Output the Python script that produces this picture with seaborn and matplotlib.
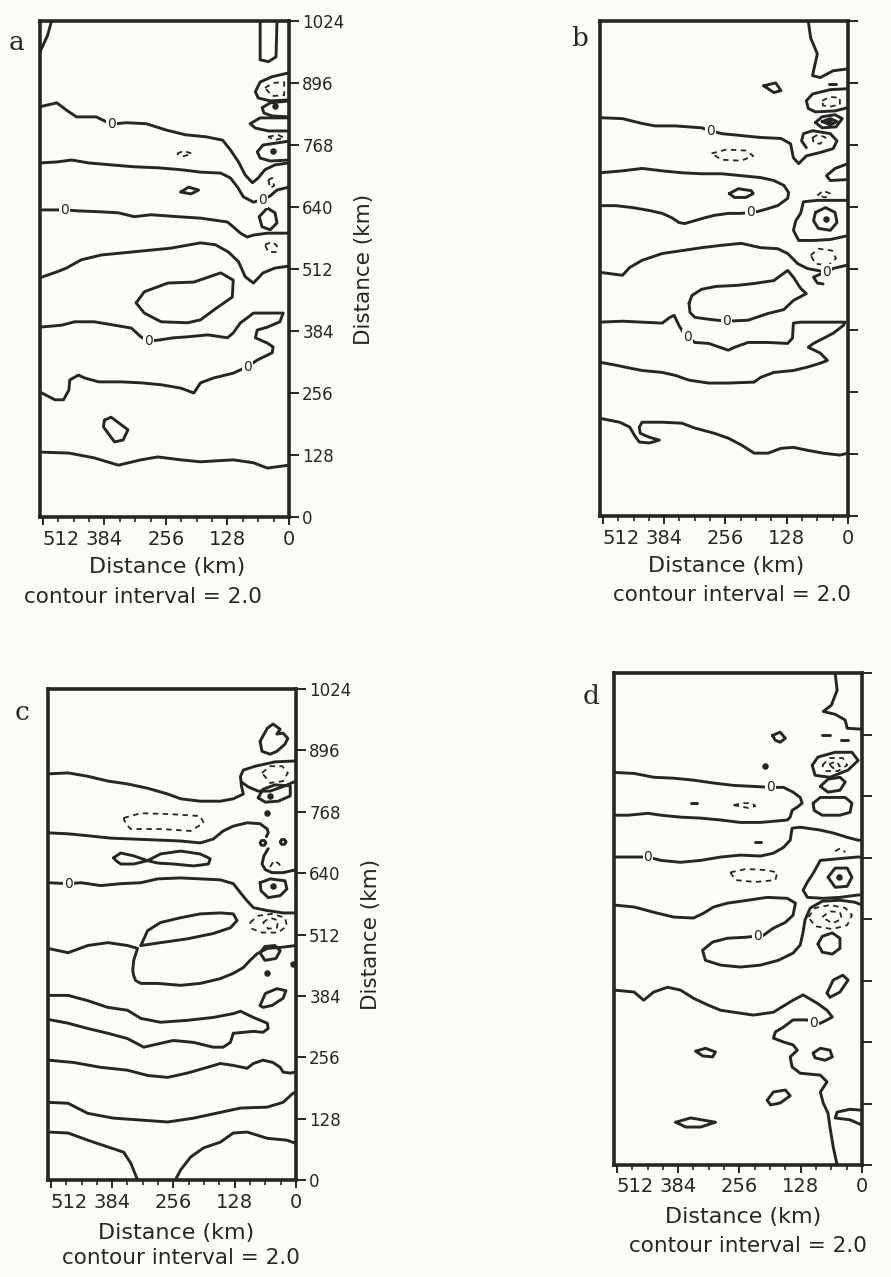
import pandas as pd
import matplotlib
matplotlib.use("Agg")
from matplotlib import pyplot as plt
import seaborn as sns

# Traced contour lines: (distance from right edge in km, distance from bottom in km)
# solid = zero / positive contours, dashed = negative contours

# ---------------- panel a ----------------
a_wedge = [(494, 1024), (502, 995), (518, 960)]
a_rect = [(60, 1024), (60, 944), (43, 940), (27, 950), (25, 1024)]
a_line1 = [(518, 847), (483, 855), (463, 840), (442, 826), (401, 826), (380, 816), (359, 812), (339, 814),
           (297, 812), (256, 799), (215, 789), (173, 785), (138, 778), (122, 758), (105, 733), (91, 706),
           (76, 690), (64, 700), (50, 717), (29, 727), (0, 731)]
a_line2 = [(518, 731), (483, 733), (452, 737), (417, 731), (370, 727), (322, 723), (273, 721), (225, 717),
           (184, 712), (142, 710), (122, 700), (107, 681), (95, 661), (74, 650), (56, 655), (39, 663),
           (25, 675), (0, 681)]
a_line3 = [(518, 634), (467, 634), (438, 632), (390, 630), (355, 628), (322, 620), (287, 624), (231, 620),
           (184, 617), (128, 609), (116, 599), (101, 586), (87, 578), (74, 582), (45, 586), (0, 586)]
a_line4 = [(518, 494), (483, 506), (463, 514), (432, 531), (390, 541), (328, 547), (246, 555), (184, 566),
           (153, 562), (126, 547), (105, 527), (91, 496), (74, 483), (54, 504), (29, 514), (0, 518)]
a_line5 = [(518, 392), (473, 396), (446, 403), (405, 403), (363, 396), (328, 390), (308, 372), (293, 363),
           (273, 365), (240, 370), (211, 372), (169, 376), (128, 370), (116, 380), (101, 401), (87, 411),
           (74, 421), (39, 421), (12, 421), (19, 403), (45, 392), (66, 386), (70, 370), (45, 359), (33, 351),
           (35, 339), (66, 324), (87, 310), (116, 297), (157, 287), (184, 277), (198, 256), (225, 266),
           (266, 273), (308, 277), (349, 279), (396, 279), (425, 287), (438, 293), (456, 283), (458, 262),
           (469, 242), (487, 242), (518, 258)]
a_line6 = [(518, 134), (458, 132), (405, 122), (355, 107), (308, 118), (273, 124), (225, 118), (184, 114),
           (116, 118), (74, 112), (45, 101), (0, 107)]
a_oval_big = [(318, 442), (301, 465), (252, 483), (198, 485), (142, 504), (116, 489), (118, 454), (157, 427),
              (184, 407), (211, 401), (266, 403), (301, 421), (318, 442)]
a_oval_small = [(384, 200), (370, 206), (335, 180), (345, 159), (363, 155), (386, 186), (384, 200)]
a_lens = [(225, 671), (209, 681), (188, 675), (204, 667), (225, 671)]
a_cell1 = [(0, 917), (35, 909), (60, 898), (70, 878), (64, 865), (39, 859), (0, 861)]
a_cell2 = [(0, 859), (39, 855), (56, 845), (52, 834), (35, 828), (0, 826)]
a_cell3 = [(0, 824), (60, 824), (81, 812), (70, 803), (43, 797), (0, 797)]
a_cell5 = [(0, 776), (54, 768), (66, 754), (60, 741), (39, 735), (0, 737)]
a_cell6 = [(45, 638), (29, 628), (25, 607), (39, 593), (56, 599), (62, 620), (45, 638)]
a_neg1 = [(233, 750), (219, 756), (202, 750), (219, 745), (233, 750)]
a_neg2 = [(50, 886), (33, 896), (10, 898), (10, 871), (35, 869), (50, 886)]
a_neg3 = [(43, 785), (23, 789), (10, 783), (31, 778), (43, 785)]
a_neg4 = [(43, 696), (35, 700), (31, 684), (39, 679), (43, 696)]
a_neg5 = [(50, 562), (35, 568), (25, 560), (27, 547), (43, 547), (50, 562)]
a_dots = [(29, 849), (33, 756)]
a_zeros = [(370, 812), (56, 655), (467, 634), (293, 363), (87, 310)]

# ---------------- panel b ----------------
b_top = [(83, 1024), (78, 989), (64, 956), (72, 921), (74, 911), (58, 907), (31, 921), (0, 925)]
b_tri = [(176, 890), (151, 896), (140, 880), (155, 876), (176, 890)]
b_mark = [(39, 894), (25, 894)]
b_cell1 = [(0, 884), (37, 882), (74, 873), (87, 859), (83, 843), (68, 836), (27, 838), (0, 845)]
b_cell2 = [(68, 814), (54, 826), (27, 830), (12, 822), (25, 805), (54, 803), (68, 814)]
b_cell2_in = [(54, 816), (37, 822), (23, 816), (37, 809), (54, 816)]
b_line1 = [(518, 824), (471, 822), (430, 812), (403, 807), (361, 807), (306, 803), (287, 797), (264, 791),
           (223, 787), (182, 783), (140, 781), (120, 770), (114, 741), (103, 729), (87, 745), (58, 752),
           (31, 760), (23, 776), (37, 791), (74, 797), (93, 791), (97, 776), (87, 762)]
b_line2 = [(518, 710), (471, 714), (430, 719), (388, 714), (347, 710), (306, 708), (264, 708), (223, 704),
           (182, 700), (155, 694), (134, 684), (124, 669), (126, 657), (147, 642), (167, 636), (188, 630),
           (204, 628), (223, 626), (250, 626), (279, 622), (299, 617), (320, 611), (341, 605), (353, 607),
           (368, 617), (388, 626), (415, 632), (450, 638), (485, 642), (518, 642)]
b_lens = [(248, 667), (229, 677), (202, 673), (198, 667), (213, 659), (237, 659), (248, 667)]
b_edge = [(0, 729), (27, 719), (45, 704), (37, 694), (0, 696)]
b_cell3 = [(0, 653), (64, 653), (93, 650), (99, 626), (109, 611), (114, 591), (103, 570), (72, 570),
           (37, 572), (0, 580)]
b_ring = [(68, 628), (47, 638), (27, 628), (23, 607), (37, 591), (62, 595), (72, 611), (68, 628)]
b_line3 = [(518, 504), (471, 498), (456, 514), (430, 529), (388, 543), (347, 549), (306, 555), (264, 560),
           (223, 564), (182, 555), (147, 553), (126, 543), (105, 522), (85, 512), (64, 508), (45, 504),
           (31, 512), (6, 518), (0, 518)]
b_hookc = [(54, 502), (72, 494), (64, 482), (52, 480)]
b_loop = [(332, 440), (326, 456), (306, 469), (275, 475), (233, 477), (196, 481), (155, 487), (126, 508),
          (114, 494), (99, 471), (87, 460), (114, 446), (134, 427), (167, 419), (209, 405), (254, 403),
          (291, 407), (320, 411), (330, 421), (332, 440)]
b_line4 = [(518, 401), (471, 403), (430, 401), (388, 399), (372, 411), (363, 415), (353, 394), (343, 378),
           (320, 359), (291, 357), (250, 343), (237, 349), (209, 359), (167, 359), (126, 357), (116, 368),
           (114, 399), (99, 401), (64, 401), (31, 401), (6, 401), (10, 394), (31, 378), (72, 357), (83, 349),
           (58, 337), (43, 322), (58, 316), (85, 308), (114, 301), (155, 297), (182, 287), (196, 277),
           (250, 275), (291, 275), (332, 281), (361, 291), (388, 297), (430, 301), (456, 306), (485, 312),
           (518, 318)]
b_line5 = [(518, 202), (477, 194), (456, 184), (446, 167), (436, 153), (415, 151), (394, 157), (415, 163),
           (434, 171), (436, 184), (430, 194), (388, 194), (347, 192), (320, 182), (279, 171), (250, 161),
           (223, 147), (196, 130), (167, 130), (140, 140), (114, 142), (85, 136), (52, 130), (17, 126), (0, 130)]
b_neg1 = [(54, 859), (37, 867), (17, 865), (17, 851), (37, 847), (52, 849), (54, 859)]
b_neg2 = [(74, 783), (62, 789), (47, 783), (58, 770), (72, 772), (74, 783)]
b_neg3 = [(285, 750), (254, 758), (213, 756), (198, 745), (223, 735), (264, 737), (285, 750)]
b_neg4 = [(64, 663), (52, 673), (37, 667), (47, 659), (64, 663)]
b_neg5 = [(78, 539), (62, 553), (33, 549), (25, 533), (41, 518), (68, 522), (78, 539)]
b_dots = [(39, 816), (45, 615)]
b_zeros = [(287, 797), (204, 628), (45, 504), (254, 403), (335, 370)]

# ---------------- panel c ----------------
c_shoe = [(75, 915), (60, 942), (48, 951), (33, 940), (40, 930), (27, 932), (17, 921), (23, 909), (40, 894),
          (54, 888), (71, 894), (75, 915)]
c_line1 = [(518, 847), (476, 849), (435, 842), (393, 832), (352, 826), (310, 817), (268, 805), (241, 795),
           (200, 790), (158, 790), (131, 795), (110, 805), (114, 822), (116, 842), (110, 855), (85, 863),
           (44, 872), (0, 874)]
c_cell1 = [(0, 832), (23, 822), (54, 811), (79, 811), (100, 820), (114, 830)]
c_cell2 = [(79, 797), (69, 815), (44, 824), (12, 822), (12, 801), (37, 790), (64, 788), (79, 797)]
c_line2 = [(518, 724), (476, 722), (435, 718), (387, 713), (339, 711), (289, 709), (241, 707), (200, 703),
           (173, 711), (152, 728), (131, 738), (102, 745), (75, 743), (60, 732), (58, 724), (62, 716)]
c_circ1 = [(63, 703), (66, 708), (72, 708), (75, 703), (72, 698), (66, 698), (63, 703)]
c_circ2 = [(21, 705), (24, 710), (30, 710), (33, 705), (30, 700), (24, 700), (21, 705)]
c_fish = [(381, 672), (366, 682), (339, 676), (310, 666), (283, 680), (241, 686), (200, 680), (179, 670),
          (183, 659), (214, 655), (256, 659), (289, 661), (310, 666), (339, 659), (366, 659), (376, 666),
          (381, 672)]
c_cup = [(58, 691), (67, 676), (71, 659), (64, 647), (50, 641), (27, 641), (0, 647)]
c_ring = [(75, 620), (54, 628), (23, 624), (19, 607), (33, 593), (58, 589), (73, 603), (75, 620)]
c_line3 = [(518, 620), (476, 618), (449, 620), (408, 614), (366, 618), (324, 620), (289, 628), (241, 630),
           (200, 628), (158, 626), (131, 618), (116, 599), (102, 582), (89, 568), (60, 562), (27, 557), (0, 557)]
c_oval_big = [(324, 489), (310, 520), (283, 537), (241, 547), (200, 555), (158, 557), (131, 555), (123, 541),
              (137, 526), (173, 514), (227, 503), (283, 495), (324, 489)]
c_line4 = [(518, 483), (476, 474), (435, 489), (393, 495), (352, 489), (331, 483), (339, 458), (341, 437),
           (339, 426), (335, 416), (324, 410), (289, 410), (241, 406), (200, 410), (158, 420), (131, 431),
           (110, 443), (96, 458), (81, 472), (60, 483), (33, 485), (0, 489)]
c_oval_sm = [(75, 474), (65, 487), (44, 489), (33, 478), (42, 462), (65, 458), (75, 474)]
c_oval_sm2 = [(75, 364), (64, 389), (40, 399), (21, 395), (27, 379), (50, 364), (69, 360), (75, 364)]
c_line5 = [(518, 385), (476, 385), (435, 374), (393, 360), (352, 354), (324, 337), (283, 329), (227, 333),
           (173, 339), (131, 347), (116, 352), (89, 339), (60, 327), (58, 316), (69, 308), (89, 310), (131, 306),
           (137, 287), (152, 277), (173, 277), (214, 287), (256, 291), (283, 285), (318, 277), (352, 295),
           (393, 306), (435, 316), (476, 327), (518, 335)]
c_line6 = [(518, 250), (464, 245), (408, 235), (352, 229), (310, 218), (268, 214), (227, 223), (185, 235),
           (158, 243), (131, 239), (102, 233), (89, 243), (69, 250), (48, 245), (33, 235), (27, 225), (12, 223),
           (0, 225)]
c_line7 = [(518, 162), (476, 160), (435, 139), (381, 129), (324, 125), (268, 121), (214, 129), (158, 141),
           (116, 150), (60, 152), (27, 162), (6, 181), (0, 183)]
c_line8a = [(518, 100), (476, 98), (435, 83), (393, 69), (360, 58), (345, 35), (331, 0)]
c_line8b = [(252, 0), (241, 21), (220, 48), (193, 67), (158, 79), (131, 98), (102, 100), (60, 87), (19, 83),
            (2, 77), (0, 73)]
c_neg1 = [(71, 849), (54, 863), (29, 863), (17, 849), (27, 832), (54, 828), (71, 849)]
c_neg2 = [(360, 755), (324, 765), (262, 763), (200, 759), (193, 745), (220, 728), (283, 732), (345, 732),
          (356, 743), (360, 755)]
c_neg3 = [(54, 653), (46, 666), (35, 659), (31, 649)]
c_neg4 = [(96, 537), (79, 551), (50, 555), (23, 547), (19, 530), (37, 516), (71, 516), (92, 524), (96, 537)]
c_neg5 = [(69, 537), (54, 547), (37, 541), (40, 526), (58, 524), (69, 537)]
c_dots = [(54, 801), (60, 765), (48, 614), (60, 431), (6, 450)]
c_zeros = [(476, 618)]

# ---------------- panel d ----------------
d_top = [(56, 1024), (52, 988), (64, 957), (81, 944), (56, 938), (35, 926), (31, 909), (0, 907)]
d_tri = [(187, 894), (171, 901), (160, 888), (171, 880), (181, 884), (187, 894)]
d_mark1 = [(83, 896), (67, 896)]
d_mark2 = [(44, 884), (29, 884)]
d_mark3 = [(358, 753), (345, 753)]
d_mark4 = [(223, 672), (210, 672)]
d_cell1 = [(104, 832), (92, 849), (56, 859), (21, 859), (8, 842), (29, 822), (67, 807), (98, 811), (104, 832)]
d_cell2 = [(87, 788), (71, 803), (46, 807), (35, 797), (46, 780), (71, 776), (87, 788)]
d_cell3 = [(102, 753), (87, 765), (35, 765), (21, 753), (25, 734), (46, 728), (83, 728), (100, 738), (102, 753)]
d_line1 = [(518, 817), (476, 815), (435, 807), (393, 805), (352, 801), (310, 795), (268, 790), (227, 788),
           (191, 786), (164, 786), (144, 776), (129, 765), (125, 753), (135, 745), (146, 738), (150, 724),
           (156, 718), (212, 713), (254, 713), (295, 718), (337, 722), (379, 724), (420, 728), (447, 732),
           (489, 728), (518, 728)]
d_line2 = [(518, 641), (447, 641), (420, 634), (379, 630), (337, 634), (295, 641), (254, 645), (212, 643),
           (185, 649), (164, 661), (150, 676), (146, 701), (129, 703), (87, 697), (60, 691), (31, 682), (8, 676),
           (0, 676)]
d_cell4 = [(0, 641), (10, 641), (87, 634), (102, 607), (114, 589), (123, 572), (114, 557), (81, 555), (46, 557),
           (8, 562), (0, 562)]
d_ring = [(71, 599), (56, 618), (31, 618), (21, 599), (31, 580), (56, 578), (71, 599)]
d_line3 = [(518, 541), (476, 537), (435, 526), (393, 516), (352, 514), (331, 524), (310, 537), (281, 545),
           (239, 551), (198, 557), (156, 555), (139, 545), (144, 520), (160, 505), (185, 493), (206, 478),
           (243, 474), (281, 472), (312, 464), (333, 447), (327, 426), (295, 416), (254, 412), (212, 416),
           (175, 426), (144, 441), (129, 458), (123, 485), (119, 510), (108, 535), (83, 549), (46, 551),
           (15, 547), (0, 541)]
d_oval4 = [(92, 460), (83, 476), (62, 483), (46, 472), (46, 451), (62, 439), (83, 443), (92, 460)]
d_oval5 = [(73, 358), (60, 385), (40, 395), (29, 385), (46, 360), (67, 349), (73, 358)]
d_line4 = [(518, 364), (476, 360), (456, 343), (435, 360), (406, 370), (379, 364), (352, 347), (322, 333),
           (295, 322), (254, 316), (227, 312), (185, 318), (144, 343), (123, 354), (94, 337), (73, 322), (62, 308),
           (73, 302), (87, 295), (102, 295), (114, 302), (144, 302), (164, 287), (181, 277), (185, 264),
           (164, 256), (144, 250), (135, 239), (150, 225), (146, 204), (129, 191), (87, 187), (73, 173),
           (87, 152), (81, 129), (71, 108), (67, 79), (60, 37), (52, 0)]
d_oval6 = [(347, 237), (327, 243), (306, 235), (312, 225), (333, 227), (347, 237)]
d_oval7 = [(102, 233), (87, 243), (67, 239), (62, 225), (77, 218), (98, 223), (102, 233)]
d_oval8 = [(198, 135), (185, 152), (160, 156), (150, 144), (171, 129), (191, 125), (198, 135)]
d_lens = [(389, 89), (358, 98), (306, 89), (337, 79), (368, 79), (389, 89)]
d_edge = [(0, 114), (25, 116), (52, 110), (56, 98), (25, 94), (0, 83)]
d_neg1 = [(83, 832), (67, 847), (40, 847), (31, 832), (50, 820), (75, 820), (83, 832)]
d_neg2 = [(69, 834), (54, 840), (46, 830), (60, 826), (69, 834)]
d_neg3 = [(268, 749), (250, 753), (229, 753), (223, 747), (237, 743), (268, 749)]
d_neg4 = [(56, 653), (46, 659), (35, 651)]
d_neg5 = [(275, 609), (243, 616), (202, 614), (177, 609), (181, 593), (223, 589), (264, 593), (275, 609)]
d_neg6 = [(112, 516), (98, 535), (67, 541), (35, 535), (21, 520), (31, 499), (62, 491), (98, 497), (112, 516)]
d_neg7 = [(83, 516), (67, 528), (46, 526), (42, 512), (62, 503), (83, 516)]
d_dots = [(48, 599), (202, 831)]
d_zeros = [(191, 786), (447, 641), (218, 476), (102, 295)]

panels = {
    "a": dict(solid=[a_wedge, a_rect, a_line1, a_line2, a_line3, a_line4, a_line5, a_line6, a_oval_big,
                     a_oval_small, a_lens, a_cell1, a_cell2, a_cell3, a_cell5, a_cell6],
              dashed=[a_neg1, a_neg2, a_neg3, a_neg4, a_neg5], dots=a_dots, zeros=a_zeros),
    "b": dict(solid=[b_top, b_tri, b_mark, b_cell1, b_cell2, b_cell2_in, b_line1, b_line2, b_lens, b_edge,
                     b_cell3, b_ring, b_line3, b_hookc, b_loop, b_line4, b_line5],
              dashed=[b_neg1, b_neg2, b_neg3, b_neg4, b_neg5], dots=b_dots, zeros=b_zeros),
    "c": dict(solid=[c_shoe, c_line1, c_cell1, c_cell2, c_line2, c_circ1, c_circ2, c_fish, c_cup, c_ring,
                     c_line3, c_oval_big, c_line4, c_oval_sm, c_oval_sm2, c_line5, c_line6, c_line7,
                     c_line8a, c_line8b],
              dashed=[c_neg1, c_neg2, c_neg3, c_neg4, c_neg5], dots=c_dots, zeros=c_zeros),
    "d": dict(solid=[d_top, d_tri, d_mark1, d_mark2, d_mark3, d_mark4, d_cell1, d_cell2, d_cell3, d_line1,
                     d_line2, d_cell4, d_ring, d_line3, d_oval4, d_oval5, d_line4, d_oval6, d_oval7, d_oval8,
                     d_lens, d_edge],
              dashed=[d_neg1, d_neg2, d_neg3, d_neg4, d_neg5, d_neg6, d_neg7], dots=d_dots, zeros=d_zeros),
}

x_ticks = [512, 384, 256, 128, 0]
y_ticks = [0, 128, 256, 384, 512, 640, 768, 896, 1024]

# layout in pixels of the 891x1277 page: left, right, top, bottom of each frame
W, H = 891, 1277
layout = {
    "a": dict(box=(40, 289, 21, 517), ylab=True, letter=(17, 43), xl=(167, 567), ci=(143, 597)),
    "b": dict(box=(600, 848, 21, 516), ylab=False, letter=(580, 38), xl=(726, 566), ci=(732, 595)),
    "c": dict(box=(48, 296, 689, 1180), ylab=True, letter=(22, 712), xl=(176, 1233), ci=(181, 1258)),
    "d": dict(box=(614, 862, 673, 1165), ylab=False, letter=(591, 696), xl=(743, 1217), ci=(748, 1246)),
}

INK = "#262626"
BG = "#fcfcf7"

sns.set_theme(style="white")
plt.rcParams["font.family"] = ["DejaVu Sans"]

fig = plt.figure(figsize=(W / 100, H / 100), dpi=100, facecolor=BG)


def draw(ax, pts, dashed=False):
    df = pd.DataFrame(pts, columns=["x", "y"])
    if dashed:
        sns.lineplot(data=df, x="x", y="y", sort=False, estimator=None, ax=ax, color=INK,
                     linewidth=1.3, linestyle=(0, (3, 2.5)))
    else:
        sns.lineplot(data=df, x="x", y="y", sort=False, estimator=None, ax=ax, color=INK,
                     linewidth=2.1, solid_joinstyle="round", solid_capstyle="round")


for key, p in panels.items():
    lay = layout[key]
    l, r, t, b = lay["box"]
    ax = fig.add_axes([l / W, 1 - b / H, (r - l) / W, (b - t) / H])
    ax.set_facecolor(BG)
    for pts in p["solid"]:
        draw(ax, pts)
    for pts in p["dashed"]:
        draw(ax, pts, dashed=True)
    dots = pd.DataFrame(p["dots"], columns=["x", "y"])
    sns.scatterplot(data=dots, x="x", y="y", ax=ax, color=INK, s=22, linewidth=0, zorder=4)
    for zx, zy in p["zeros"]:
        ax.text(zx, zy, "0", fontsize=10, ha="center", va="center", color=INK, zorder=6,
                bbox=dict(boxstyle="square,pad=0.08", fc=BG, ec="none"))

    ax.set_xlim(518, 0)
    ax.set_ylim(0, 1024)
    ax.set_xticks(x_ticks)
    ax.set_xticklabels([str(v) for v in x_ticks])
    ax.set_xticks(range(0, 513, 32), minor=True)
    for lab in ax.get_xticklabels():
        if lab.get_text() == "512":
            lab.set_horizontalalignment("left")
    ax.yaxis.tick_right()
    ax.set_yticks(y_ticks)
    if lay["ylab"]:
        ax.set_yticklabels([str(v) for v in y_ticks])
        ax.yaxis.set_label_position("right")
        ax.set_ylabel("Distance (km)", fontsize=15.5, color=INK, labelpad=7)
    else:
        ax.set_yticklabels([])
        ax.set_ylabel("")
    ax.tick_params(axis="y", which="major", direction="out", length=7.5, width=1.4, pad=2,
                   labelsize=12, colors=INK, right=True, left=False)
    ax.tick_params(axis="x", which="major", direction="out", length=6, width=1.4, pad=3,
                   labelsize=14, colors=INK, bottom=True)
    ax.tick_params(axis="x", which="minor", direction="out", length=3.5, width=1.2, colors=INK, bottom=True)
    for s in ax.spines.values():
        s.set_linewidth(2.6)
        s.set_color(INK)

    ax.set_xlabel("Distance (km)", fontsize=16, color=INK)
    xl_x, xl_y = lay["xl"]
    ax.xaxis.set_label_coords((xl_x - l) / (r - l), -(xl_y - b) / (b - t))
    ax.xaxis.label.set_verticalalignment("center")

    ci_x, ci_y = lay["ci"]
    fig.text(ci_x / W, 1 - ci_y / H, "contour interval = 2.0", fontsize=15.5, color=INK,
             ha="center", va="center")
    lx, ly = lay["letter"]
    fig.text(lx / W, 1 - ly / H, key, fontsize=19, family="DejaVu Serif", color=INK,
             ha="center", va="center")

fig.savefig("out.png", dpi=100, facecolor=BG)
